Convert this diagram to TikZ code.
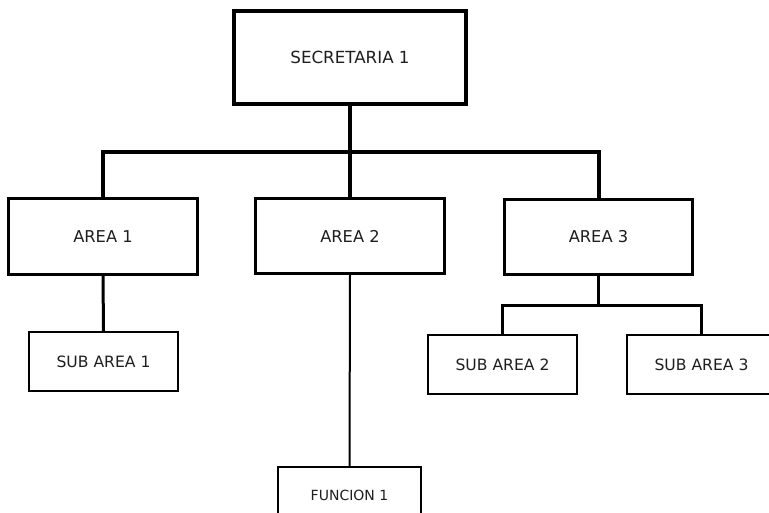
\documentclass[tikz,border=0pt]{standalone}
\usepackage{fontspec}
\setmainfont{DejaVu Sans}
\begin{document}
\begin{tikzpicture}[x=1pt,y=-1pt,
  box/.style={draw=black, fill=white, rectangle, inner sep=0pt, text=black!88},
  topbox/.style={box, line width=4pt, font=\fontsize{16.7}{20}\selectfont},
  areabox/.style={box, line width=3pt, font=\fontsize{16.3}{19}\selectfont},
  subbox/.style={box, line width=2pt, font=\fontsize{15.6}{18}\selectfont},
  funcbox/.style={box, line width=2pt, font=\fontsize{14}{17}\selectfont},
  trunk/.style={draw=black, line width=4pt, line cap=rect},
  branch/.style={draw=black, line width=3pt, line cap=rect},
  twig/.style={draw=black, line width=2pt}]
  \path[use as bounding box, fill=white] (0,0) rectangle (769,512);
  \clip (0,0) rectangle (769,512);

  % connector rails
  \coordinate (bus) at (0,152);
  \coordinate (bus3) at (0,305);

  % boxes
  \node[topbox, minimum width=232pt, minimum height=93pt] (sec) at (350,57.5) {SECRETARIA 1};
  \node[areabox, minimum width=189pt, minimum height=76pt] (a1) at (103,236.5) {AREA 1};
  \node[areabox, minimum width=189pt, minimum height=75pt] (a2) at (350,236) {AREA 2};
  \node[areabox, minimum width=188pt, minimum height=75pt] (a3) at (598.5,237) {AREA 3};
  \node[subbox, minimum width=149pt, minimum height=59pt] (s1) at (103.5,361.5) {SUB AREA 1};
  \node[subbox, minimum width=149pt, minimum height=59pt] (s2) at (502.5,364.5) {SUB AREA 2};
  \node[subbox, minimum width=149pt, minimum height=59pt] (s3) at (701.5,364.5) {SUB AREA 3};
  \node[funcbox, minimum width=143pt, minimum height=56pt] (f1) at (349.5,495) {FUNCION 1};

  % top-level tree
  \path[trunk, line cap=butt] (sec.south) -- (sec.south |- bus);
  \path[trunk] (a1.north) -- (a1.north |- bus) -- (a3.north |- bus) -- (a3.north);
  \path[trunk, line cap=butt] (a2.north) -- (a2.north |- bus);

  % lower branches
  \path[branch, line cap=butt] (a1.south) -- (s1.north);
  \path[twig] (a2.south) -- (f1.north);
  \path[branch, line cap=butt] (a3.south) -- (a3.south |- bus3);
  \path[branch] (s2.north) -- (s2.north |- bus3) -- (s3.north |- bus3) -- (s3.north);
\end{tikzpicture}
\end{document}
